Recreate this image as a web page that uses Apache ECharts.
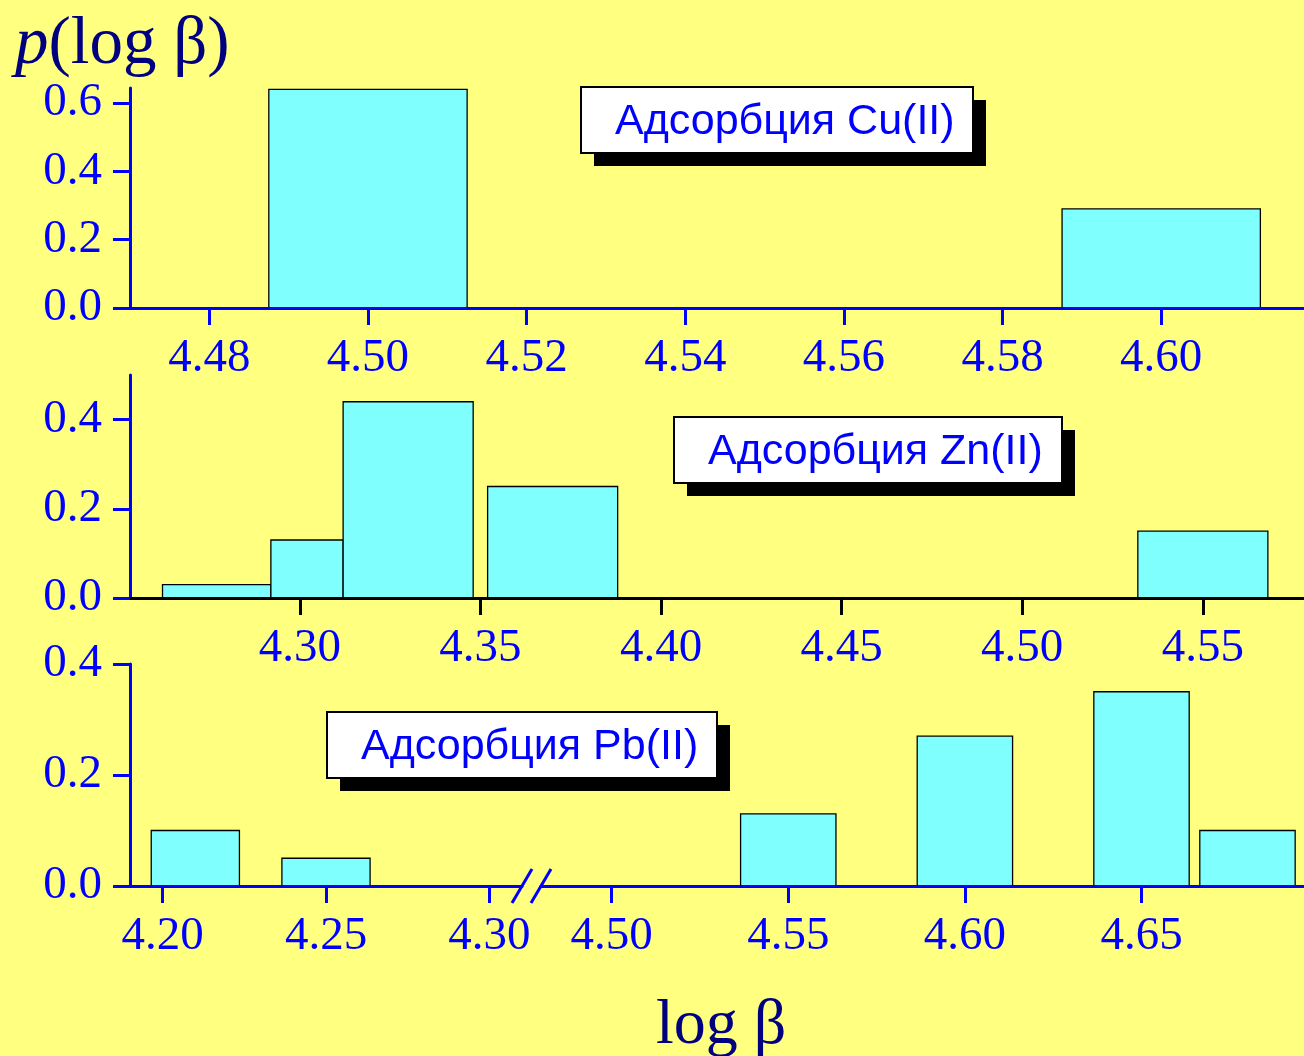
<!DOCTYPE html>
<html>
<head>
<meta charset="utf-8">
<script src="https://cdn.jsdelivr.net/npm/echarts@6/dist/echarts.min.js"></script>
<style>
  html, body { margin: 0; padding: 0; background: #FFFF80; }
  #chart { width: 1304px; height: 1056px; }
</style>
</head>
<body>
<div id="chart"></div>
<script>
// Histogram bins: lower edge, upper edge, probability p(log β)
const cuLo = [4.4875, 4.5875];
const cuHi = [4.5125, 4.6125];
const cuP  = [0.64, 0.29];

const znLo = [4.262, 4.292, 4.312, 4.352, 4.532];
const znHi = [4.292, 4.312, 4.348, 4.388, 4.568];
const znP  = [0.03, 0.13, 0.44, 0.25, 0.15];

// Pb(II): two segments of a broken log β axis
const pbLoA = [4.1965, 4.2365];
const pbHiA = [4.2235, 4.2635];
const pbPA  = [0.10, 0.05];

const pbLoB = [4.5365, 4.5865, 4.6365, 4.6665];
const pbHiB = [4.5635, 4.6135, 4.6635, 4.6935];
const pbPB  = [0.13, 0.27, 0.35, 0.10];

// Tick values
const cuXTicks  = [4.48, 4.50, 4.52, 4.54, 4.56, 4.58, 4.60];
const znXTicks  = [4.30, 4.35, 4.40, 4.45, 4.50, 4.55];
const pbXTicksA = [4.20, 4.25, 4.30];
const pbXTicksB = [4.50, 4.55, 4.60, 4.65];
const cuYTicks  = [0, 0.2, 0.4, 0.6];
const znYTicks  = [0, 0.2, 0.4];
const pbYTicks  = [0, 0.2, 0.4];

const labels = ['Адсорбция Cu(II)', 'Адсорбция Zn(II)', 'Адсорбция Pb(II)'];

const BLUE = '#0000FF';
const NAVY = '#000080';
const SERIF = '"Liberation Serif", "Times New Roman", serif';
const SANS = '"Liberation Sans", Arial, sans-serif';

function bins(lo, hi, p) {
  return lo.map((v, i) => [v, hi[i], p[i]]);
}

function renderBar(params, api) {
  const a = api.coord([api.value(0), 0]);
  const b = api.coord([api.value(1), api.value(2)]);
  return {
    type: 'rect',
    shape: { x: a[0], y: b[1], width: b[0] - a[0], height: a[1] - b[1] },
    style: { fill: '#80FFFF', stroke: '#000000', lineWidth: 1.3 }
  };
}

function xAxis(grid, min, max, ticks, color) {
  return {
    type: 'value', gridIndex: grid, min: min, max: max, z: 5,
    axisLine: { show: true, onZero: false, lineStyle: { color: color, width: 3 } },
    axisTick: { show: true, customValues: ticks, length: 17, inside: false,
                lineStyle: { color: color, width: 3 } },
    axisLabel: { show: true, customValues: ticks, margin: 27,
                 formatter: v => v.toFixed(2),
                 color: BLUE, fontFamily: SERIF, fontSize: 47 },
    splitLine: { show: false }
  };
}

function yAxis(grid, max, ticks, show) {
  return {
    type: 'value', gridIndex: grid, min: 0, max: max, show: show, z: 5,
    axisLine: { show: true, lineStyle: { color: BLUE, width: 3 } },
    axisTick: { show: true, customValues: ticks, length: 17,
                lineStyle: { color: BLUE, width: 3 } },
    axisLabel: { show: true, customValues: ticks, margin: 28,
                 formatter: v => v.toFixed(1),
                 color: BLUE, fontFamily: SERIF, fontSize: 47 },
    splitLine: { show: false }
  };
}

function barSeries(idx, data) {
  return {
    type: 'custom', xAxisIndex: idx, yAxisIndex: idx,
    renderItem: renderBar, data: data,
    encode: { x: [0, 1], y: 2 }, silent: true, animation: false
  };
}

// A white label box with an offset black drop shadow
function labelBox(text, x, y, w, h) {
  return {
    type: 'group', x: x, y: y,
    children: [
      { type: 'rect', shape: { x: 13, y: 13, width: w, height: h },
        style: { fill: '#000000' } },
      { type: 'rect', shape: { x: 0, y: 0, width: w, height: h },
        style: { fill: '#FFFFFF', stroke: '#000000', lineWidth: 2 } },
      { type: 'text', x: 34, y: h / 2 + 2,
        style: { text: text, fill: BLUE, font: '43px ' + SANS,
                 verticalAlign: 'middle', align: 'left' } }
    ]
  };
}

const chart = echarts.init(document.getElementById('chart'), null, { renderer: 'canvas' });

const option = {
  backgroundColor: '#FFFF80',
  animation: false,
  grid: [
    { left: 130, top: 88,  right: 0,   height: 220 },
    { left: 130, top: 375, right: 0,   height: 223 },
    { left: 130, top: 664, width: 392, height: 222 },
    { left: 541, top: 664, right: 0,   height: 222 }
  ],
  xAxis: [
    xAxis(0, 4.47, 4.618, cuXTicks, BLUE),
    xAxis(1, 4.253, 4.578, znXTicks, '#000000'),
    xAxis(2, 4.19, 4.31, pbXTicksA, BLUE),
    xAxis(3, 4.48, 4.696, pbXTicksB, BLUE)
  ],
  yAxis: [
    yAxis(0, 0.644, cuYTicks, true),
    yAxis(1, 0.5, znYTicks, true),
    yAxis(2, 0.4, pbYTicks, true),
    yAxis(3, 0.4, pbYTicks, false)
  ],
  series: [
    barSeries(0, bins(cuLo, cuHi, cuP)),
    barSeries(1, bins(znLo, znHi, znP)),
    barSeries(2, bins(pbLoA, pbHiA, pbPA)),
    barSeries(3, bins(pbLoB, pbHiB, pbPB))
  ],
  graphic: [
    { type: 'text', left: 15, top: 12,
      style: { text: '{i|p}(log β)', fill: NAVY, font: '67px ' + SERIF,
               rich: { i: { fontStyle: 'italic', fontSize: 67, fontFamily: SERIF, fill: NAVY } } } },
    { type: 'text', left: 656, top: 994,
      style: { text: 'log β', fill: NAVY, font: '64px ' + SERIF } },
    labelBox(labels[0], 581, 87, 392, 66),
    labelBox(labels[1], 674, 417, 388, 66),
    labelBox(labels[2], 327, 712, 390, 66)
  ]
};

chart.setOption(option);

// Axis-break slashes where the two Pb(II) segments meet
const yBase = chart.convertToPixel({ yAxisIndex: 2 }, 0);
const xEndA = chart.convertToPixel({ xAxisIndex: 2 }, 4.31);
const xStartB = chart.convertToPixel({ xAxisIndex: 3 }, 4.48);
const slash = cx => ({
  type: 'line', z: 10,
  shape: { x1: cx - 10, y1: yBase + 17, x2: cx + 10, y2: yBase - 17 },
  style: { stroke: BLUE, lineWidth: 3 }
});
chart.setOption({
  graphic: option.graphic.concat([slash(xEndA), slash(xStartB)])
});
</script>
</body>
</html>
